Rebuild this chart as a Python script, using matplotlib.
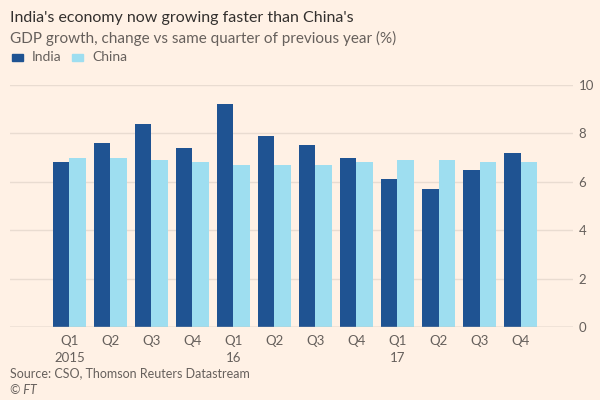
import numpy as np
import matplotlib
matplotlib.use("Agg")
import matplotlib.pyplot as plt
from matplotlib.patches import Rectangle

plt.rcParams['font.family'] = ['Lato', 'DejaVu Sans']

quarters = ["Q1\n2015", "Q2", "Q3", "Q4", "Q1\n16", "Q2", "Q3", "Q4",
            "Q1\n17", "Q2", "Q3", "Q4"]
india = [6.8, 7.6, 8.4, 7.4, 9.2, 7.9, 7.5, 7.0, 6.1, 5.7, 6.5, 7.2]
china = [7.0, 7.0, 6.9, 6.8, 6.7, 6.7, 6.7, 6.8, 6.9, 6.9, 6.8, 6.8]
yticks = [0, 2, 4, 6, 8, 10]

bg = "#FFF1E5"
c_india = "#1F5392"
c_china = "#9EDEF0"
grid_c = "#E9DCD1"
text_c = "#66605C"

fig = plt.figure(figsize=(6, 4), dpi=100, facecolor=bg)
ax = fig.add_axes([10 / 600, 1 - 327 / 400, 563 / 600, 242 / 400], facecolor=bg)

x = np.arange(len(quarters))
w = 0.40
ax.bar(x - w / 2, india, w, color=c_india, zorder=3)
ax.bar(x + w / 2, china, w, color=c_china, zorder=3)

ax.set_xlim(-1.45, 12.28)
ax.set_ylim(0, 10)
ax.set_yticks(yticks)
ax.yaxis.tick_right()
ax.tick_params(axis='y', length=0, pad=4, labelsize=9.5, labelcolor=text_c)
ax.set_xticks(x)
ax.set_xticklabels(quarters, fontsize=9.5, color=text_c, linespacing=1.5)
ax.tick_params(axis='x', length=0, pad=6)
ax.grid(axis='y', color=grid_c, linewidth=1, zorder=0)
for s in ax.spines.values():
    s.set_visible(False)
ax.axhline(0, color="#CCC1B7", linewidth=1, zorder=4)

fig.text(10 / 600, 1 - 18 / 400, "India's economy now growing faster than China's",
         fontsize=11.5, color="#33302E", va='center')
fig.text(10 / 600, 1 - 38 / 400, "GDP growth, change vs same quarter of previous year (%)",
         fontsize=11, color=text_c, va='center')

# legend
fig.patches.append(Rectangle((12 / 600, 1 - 61 / 400), 11 / 600, 7 / 400,
                             transform=fig.transFigure, color=c_india))
fig.text(32 / 600, 1 - 57 / 400, "India", fontsize=10, color=text_c, va='center')
fig.patches.append(Rectangle((72 / 600, 1 - 61 / 400), 11 / 600, 7 / 400,
                             transform=fig.transFigure, color=c_china))
fig.text(92 / 600, 1 - 57 / 400, "China", fontsize=10, color=text_c, va='center')

fig.text(10 / 600, 1 - 373 / 400, "Source: CSO, Thomson Reuters Datastream",
         fontsize=9, color=text_c, va='center')
fig.text(10 / 600, 1 - 390 / 400, "© FT", fontsize=9, color=text_c, va='center',
         style='italic')

fig.savefig("out.png", dpi=100, facecolor=bg)
